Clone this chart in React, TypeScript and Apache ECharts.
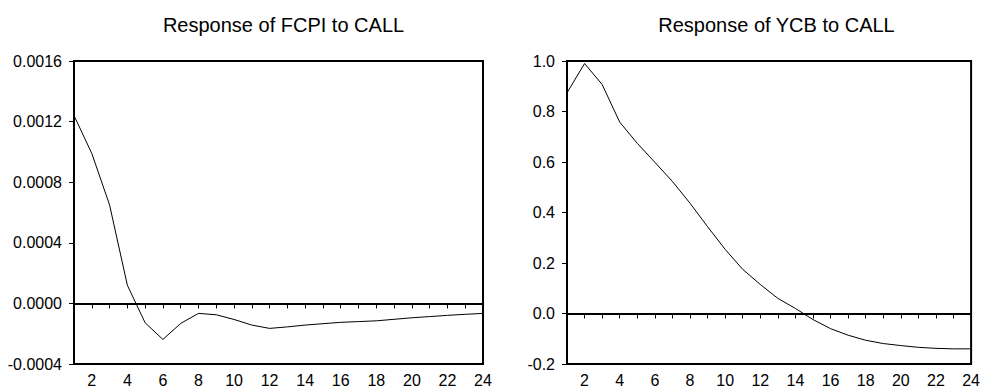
import React, { useEffect, useRef } from "react";
import * as echarts from "echarts";

const periods = [1, 2, 3, 4, 5, 6, 7, 8, 9, 10, 11, 12, 13, 14, 15, 16, 17, 18, 19, 20, 21, 22, 23, 24];

const fcpiValues = [
  0.00124, 0.00099, 0.00065, 0.00012, -0.000128, -0.000238, -0.000132, -0.000066,
  -0.000075, -0.000106, -0.000143, -0.000165, -0.000155, -0.000143, -0.000134, -0.000125,
  -0.00012, -0.000115, -0.000105, -0.000095, -0.000087, -0.000079, -0.000072, -0.000066,
];

const ycbValues = [
  0.874, 0.99, 0.907, 0.758, 0.674, 0.599, 0.523, 0.437, 0.344, 0.254, 0.175, 0.115,
  0.06, 0.02, -0.024, -0.06, -0.086, -0.106, -0.119, -0.127, -0.134, -0.138, -0.14, -0.14,
];

const titles = ["Response of FCPI to CALL", "Response of YCB to CALL"];
const fcpiTicks = { min: -0.0004, max: 0.0016, interval: 0.0004, digits: 4 };
const ycbTicks = { min: -0.2, max: 1.0, interval: 0.2, digits: 1 };

const FONT = "Liberation Sans, Arial, Helvetica, sans-serif";

export default function App() {
  const ref = useRef<HTMLDivElement>(null);

  useEffect(() => {
    document.body.style.margin = "0";
    if (!ref.current) return;
    const chart = echarts.init(ref.current, null, { renderer: "svg" });

    const grids = [
      { left: 74, top: 61, width: 409, height: 303 },
      { left: 567, top: 61, width: 409, height: 303 },
    ];
    const ticks = [fcpiTicks, ycbTicks];
    const values = [fcpiValues, ycbValues];

    const option: any = {
      animation: false,
      backgroundColor: "#fff",
      title: titles.map((t, i) => ({
        text: t,
        left: grids[i].left + grids[i].width / 2,
        top: 10,
        textAlign: "center",
        textStyle: { fontFamily: FONT, fontSize: 20, fontWeight: "normal", color: "#000" },
      })),
      grid: grids.map((g) => ({
        ...g,
        show: true,
        borderColor: "#000",
        borderWidth: 2,
        backgroundColor: "#fff",
      })),
      xAxis: grids.map((_, i) => ({
        type: "value",
        gridIndex: i,
        min: 1,
        max: 24,
        interval: 1,
        axisLine: { show: true, lineStyle: { color: "#000", width: 2 } },
        axisTick: { show: true, length: 5, lineStyle: { color: "#000", width: 1 } },
        splitLine: { show: false },
        axisLabel: {
          margin: 8,
          color: "#000",
          fontFamily: FONT,
          fontSize: 16,
          formatter: (v: number) => (Math.round(v) % 2 === 0 ? String(Math.round(v)) : ""),
        },
      })),
      yAxis: grids.map((_, i) => ({
        type: "value",
        gridIndex: i,
        min: ticks[i].min,
        max: ticks[i].max,
        interval: ticks[i].interval,
        axisLine: { show: true, lineStyle: { color: "#000", width: 2 } },
        axisTick: { show: true, length: 5, lineStyle: { color: "#000", width: 1 } },
        splitLine: { show: false },
        axisLabel: {
          margin: 12,
          color: "#000",
          fontFamily: FONT,
          fontSize: 16,
          formatter: (v: number) => v.toFixed(ticks[i].digits),
        },
      })),
      series: values.map((vals, i) => ({
        type: "line",
        xAxisIndex: i,
        yAxisIndex: i,
        data: periods.map((p, k) => [p, vals[k]]),
        symbol: "none",
        lineStyle: { color: "#000", width: 1 },
        markLine: {
          silent: true,
          symbol: ["none", "none"],
          label: { show: false },
          lineStyle: { color: "#000", width: 1, type: "solid" },
          data: [{ yAxis: 0 }],
        },
      })),
    };

    chart.setOption(option);
    return () => chart.dispose();
  }, []);

  return <div ref={ref} style={{ width: 983, height: 390 }} />;
}
